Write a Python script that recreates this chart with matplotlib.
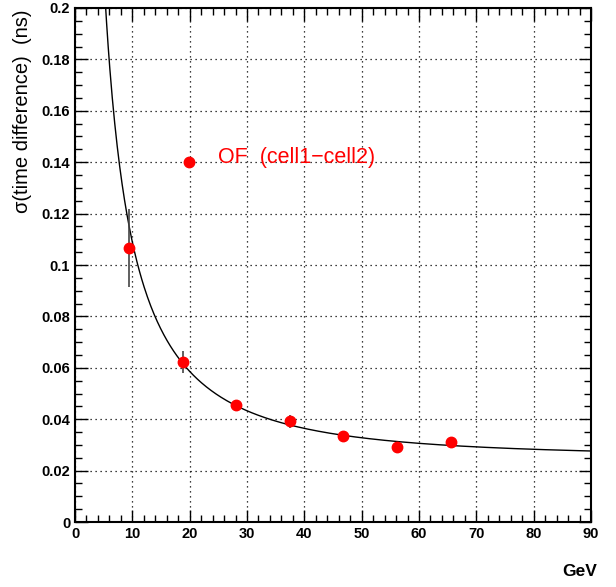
import matplotlib
matplotlib.use("Agg")
import matplotlib.pyplot as plt
import numpy as np
from matplotlib.ticker import MultipleLocator

# ==========================================
# DATA
# ==========================================

energy = [9.4, 18.8, 28.1, 37.5, 46.8, 56.2, 65.6]
sigma = [0.1066, 0.0623, 0.0455, 0.0392, 0.0335, 0.0293, 0.0312]
sigma_err = [0.015, 0.0043, 0.002, 0.0026, 0.002, 0.001, 0.002]

# fit: sigma = sqrt((a/E)^2 + c^2)
fit_a = 1.06
fit_c = 0.025

legend_x = 19.9
legend_y = 0.14
legend_label = "OF  (cell1\u2212cell2)"

# ==========================================
# FIGURE
# ==========================================

plt.rcParams["font.family"] = ["Liberation Sans", "DejaVu Sans"]

fig = plt.figure(figsize=(6.16, 5.87), dpi=100)
ax = fig.add_axes([0.1218, 0.1107, 0.8376, 0.8757])

e_fit = np.linspace(4.5, 90, 600)
s_fit = np.sqrt((fit_a / e_fit) ** 2 + fit_c ** 2)
ax.plot(e_fit, s_fit, color="black", lw=1.0, zorder=2)

ax.errorbar(
    energy,
    sigma,
    yerr=sigma_err,
    fmt="o",
    color="red",
    ecolor="#444444",
    elinewidth=1.2,
    capsize=0,
    markersize=7.5,
    zorder=3
)

ax.plot(legend_x, legend_y, "o", color="red", markersize=7.5)
ax.text(
    legend_x + 5,
    legend_y + 0.002,
    legend_label,
    color="red",
    fontsize=15.5,
    va="center",
    ha="left"
)

ax.set_xlim(0, 90)
ax.set_ylim(0, 0.2)

ax.xaxis.set_major_locator(MultipleLocator(10))
ax.xaxis.set_minor_locator(MultipleLocator(2))
ax.yaxis.set_major_locator(MultipleLocator(0.02))
ax.yaxis.set_minor_locator(MultipleLocator(0.005))

ax.set_yticks(np.arange(0, 0.201, 0.02))
ax.set_yticklabels(["0", "0.02", "0.04", "0.06", "0.08", "0.1",
                    "0.12", "0.14", "0.16", "0.18", "0.2"])

ax.tick_params(which="both", direction="in", top=True, right=True,
               labelsize=10.5, width=1.0)
ax.tick_params(which="major", length=9)
ax.tick_params(which="minor", length=5)
for lab in ax.get_xticklabels() + ax.get_yticklabels():
    lab.set_fontweight("bold")

ax.grid(True, which="major", color="black", linestyle=(0, (1, 3)), lw=0.9)

for spine in ax.spines.values():
    spine.set_linewidth(1.5)

fig.text(0.037, 0.983, "\u03c3(time difference)  (ns)", rotation=90,
         ha="center", va="top", fontsize=14.5)
fig.text(0.97, 0.0256, "GeV", ha="right", va="center", fontsize=12.5,
         fontweight="bold")

fig.savefig("out.png", dpi=100)
plt.close(fig)
